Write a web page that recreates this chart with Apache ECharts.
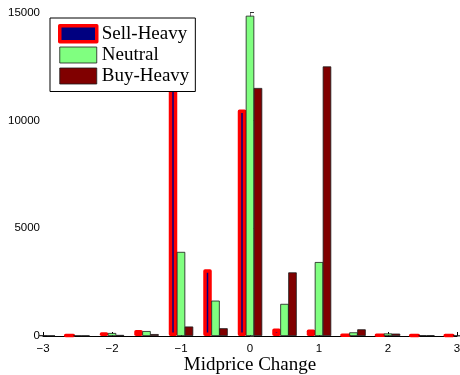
<!DOCTYPE html>
<html>
<head>
<meta charset="utf-8">
<script src="https://cdn.jsdelivr.net/npm/echarts@6/dist/echarts.min.js"></script>
<style>
  html, body { margin: 0; padding: 0; background: #fff; }
  #chart { width: 460px; height: 375px; }
</style>
</head>
<body>
<div id="chart"></div>
<script>
// Bin centres of the midprice change histogram (step 0.5)
const binCenters = [-3, -2.5, -2, -1.5, -1, -0.5, 0, 0.5, 1, 1.5, 2, 2.5, 3];

// Counts per bin for each order-book state (null: bar falls outside the plotted range)
const sellHeavy = [null, 40, 170, 280, 12500, 3100, 10500, 350, 300, 60, 60, 40, 40];
const neutral   = [30, 20, 140, 230, 3900, 1640, 14850, 1490, 3430, 170, 120, 30, 20];
const buyHeavy  = [20, 20, 50, 90, 440, 360, 11500, 2950, 12500, 310, 110, 30, 20];

const seriesNames = ['Sell-Heavy', 'Neutral', 'Buy-Heavy'];
const xTickLabels = ['\u22123', '\u22122', '\u22121', '0', '1', '2', '3'];
const yTickLabels = ['0', '5000', '10000', '15000'];

const xTicks = [-3, -2, -1, 0, 1, 2, 3];
const yTicks = [0, 5000, 10000, 15000];

const pairs = vals => vals.map((v, i) => [binCenters[i], v == null ? '-' : v]);

const sellStyle = { color: '#000080', borderColor: '#ff0000', borderWidth: 3.5, borderJoin: 'round' };
const neutralStyle = { color: '#80ff80', borderColor: '#1a1a1a', borderWidth: 0.8 };
const buyStyle = { color: '#800000', borderColor: '#1a1a1a', borderWidth: 0.8 };

const chart = echarts.init(document.getElementById('chart'), null, { renderer: 'canvas' });

chart.setOption({
  animation: false,
  backgroundColor: '#ffffff',
  grid: { left: 43, right: 3, top: 12.5, bottom: 39, containLabel: false, outerBoundsMode: 'none' },
  legend: {
    orient: 'vertical',
    left: 50,
    top: 18,
    padding: [6, 6, 6, 8],
    itemWidth: 37,
    itemHeight: 16,
    itemGap: 2,
    backgroundColor: '#ffffff',
    borderColor: '#000000',
    borderWidth: 1,
    borderRadius: 0,
    selectedMode: false,
    textStyle: { fontFamily: 'Liberation Serif', fontSize: 19, color: '#000', lineHeight: 16 },
    data: [
      { name: 'Sell-Heavy', icon: 'rect', itemStyle: sellStyle },
      { name: 'Neutral', icon: 'rect', itemStyle: neutralStyle },
      { name: 'Buy-Heavy', icon: 'rect', itemStyle: buyStyle }
    ]
  },
  xAxis: {
    type: 'value',
    min: -3,
    max: 3,
    interval: 1,
    name: 'Midprice Change',
    nameLocation: 'middle',
    nameGap: 20,
    nameMoveOverlap: false,
    nameTextStyle: { fontFamily: 'Liberation Serif', fontSize: 19, color: '#000', verticalAlign: 'top' },
    axisLine: { show: true, onZero: false, lineStyle: { color: '#000', width: 1 } },
    axisTick: { show: true, inside: true, length: 4, lineStyle: { color: '#000' } },
    axisLabel: {
      margin: 7,
      fontFamily: 'Liberation Sans',
      fontSize: 11.5,
      color: '#000',
      formatter: v => xTickLabels[xTicks.indexOf(v)]
    },
    splitLine: { show: false }
  },
  yAxis: {
    type: 'value',
    min: 0,
    max: 15000,
    interval: 5000,
    axisLine: { show: true, lineStyle: { color: '#7a7a7a', width: 1 } },
    axisTick: { show: true, inside: true, length: 4, lineStyle: { color: '#333' } },
    axisLabel: {
      margin: 3,
      fontFamily: 'Liberation Sans',
      fontSize: 11.5,
      color: '#000',
      formatter: v => yTickLabels[yTicks.indexOf(v)]
    },
    splitLine: { show: false }
  },
  series: [
    { name: seriesNames[0], type: 'bar', data: pairs(sellHeavy), barWidth: 8.5, barGap: '-6%', clip: true, itemStyle: sellStyle, z: 2 },
    { name: seriesNames[1], type: 'bar', data: pairs(neutral), barWidth: 8.5, barGap: '-6%', clip: true, itemStyle: neutralStyle, z: 3 },
    { name: seriesNames[2], type: 'bar', data: pairs(buyHeavy), barWidth: 8.5, barGap: '-6%', clip: true, itemStyle: buyStyle, z: 3 }
  ]
});
</script>
</body>
</html>
